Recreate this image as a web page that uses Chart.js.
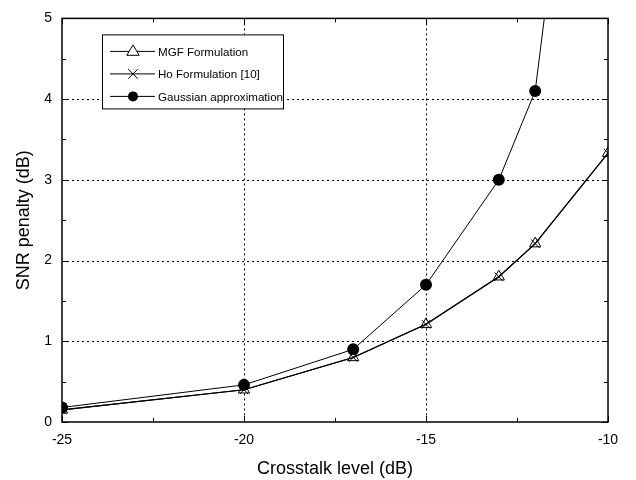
<!DOCTYPE html>
<html>
<head>
<meta charset="utf-8">
<script src="https://cdn.jsdelivr.net/npm/chart.js@4.4.0/dist/chart.umd.min.js"></script>
<style>
  body { margin: 0; background: #fff; }
  #wrap { width: 636px; height: 480px; }
</style>
</head>
<body>
<div id="wrap"><canvas id="snrChart"></canvas></div>
<script>
// values
const crosstalk = [-25, -20, -17, -15, -13, -12, -10];
const mgfPenalty = [0.15, 0.40, 0.80, 1.21, 1.80, 2.21, 3.33];
const hoPenalty = [0.15, 0.40, 0.80, 1.21, 1.80, 2.21, 3.33];
const gaussCrosstalk = [-25, -20, -17, -15, -13, -12, -11];
const gaussPenalty = [0.18, 0.46, 0.90, 1.70, 3.00, 4.10, 7.7];
const xTicks = [-25, -20, -15, -10];
const yTicks = [0, 1, 2, 3, 4, 5];
const legendLabels = ['MGF Formulation', 'Ho Formulation [10]', 'Gaussian approximation'];

const FONT = '"Liberation Sans", Arial, sans-serif';
const pts = (xs, ys) => xs.map((x, i) => ({ x: x, y: ys[i] }));

function marker(ctx, kind, x, y, r) {
  ctx.save();
  ctx.lineWidth = 1;
  ctx.strokeStyle = '#000';
  ctx.beginPath();
  if (kind === 'triangle') {
    ctx.moveTo(x, y - r);
    ctx.lineTo(x + r * 0.95, y + r * 0.6);
    ctx.lineTo(x - r * 0.95, y + r * 0.6);
    ctx.closePath();
    ctx.fillStyle = '#fff';
    ctx.fill();
    ctx.stroke();
  } else if (kind === 'cross') {
    ctx.moveTo(x - r * 0.75, y - r * 0.75);
    ctx.lineTo(x + r * 0.75, y + r * 0.75);
    ctx.moveTo(x + r * 0.75, y - r * 0.75);
    ctx.lineTo(x - r * 0.75, y + r * 0.75);
    ctx.stroke();
  } else {
    ctx.arc(x, y, r, 0, Math.PI * 2);
    ctx.fillStyle = '#000';
    ctx.fill();
  }
  ctx.restore();
}

// dotted grid, inward ticks, frame and the boxed legend
const framePlugin = {
  id: 'framePlugin',
  beforeDatasetsDraw(chart) {
    const { ctx, chartArea: a, scales: { x, y } } = chart;
    ctx.save();
    ctx.strokeStyle = '#000';
    ctx.lineWidth = 1;
    ctx.setLineDash([2, 3]);
    xTicks.slice(1, -1).forEach(v => {
      const px = Math.round(x.getPixelForValue(v)) + 0.5;
      ctx.beginPath(); ctx.moveTo(px, a.top); ctx.lineTo(px, a.bottom); ctx.stroke();
    });
    yTicks.slice(1, -1).forEach(v => {
      const py = Math.round(y.getPixelForValue(v)) + 0.5;
      ctx.beginPath(); ctx.moveTo(a.left, py); ctx.lineTo(a.right, py); ctx.stroke();
    });
    ctx.restore();
  },
  afterDatasetsDraw(chart) {
    const { ctx, chartArea: a, scales: { x, y } } = chart;
    ctx.save();
    ctx.strokeStyle = '#000';
    ctx.lineWidth = 1.5;
    ctx.strokeRect(a.left, a.top, a.right - a.left, a.bottom - a.top);
    ctx.lineWidth = 1;
    for (let v = -25; v <= -10; v += 2.5) {
      const len = (v % 5 === 0) ? 6 : 4;
      const px = Math.round(x.getPixelForValue(v)) + 0.5;
      ctx.beginPath();
      ctx.moveTo(px, a.bottom); ctx.lineTo(px, a.bottom - len);
      ctx.moveTo(px, a.top); ctx.lineTo(px, a.top + len);
      ctx.stroke();
    }
    for (let v = 0; v <= 5; v += 0.5) {
      const len = (v % 1 === 0) ? 6 : 4;
      const py = Math.round(y.getPixelForValue(v)) + 0.5;
      ctx.beginPath();
      ctx.moveTo(a.left, py); ctx.lineTo(a.left + len, py);
      ctx.moveTo(a.right, py); ctx.lineTo(a.right - len, py);
      ctx.stroke();
    }

    // legend box
    const bx = a.left + 40, by = a.top + 16, bw = 181, bh = 74;
    ctx.fillStyle = '#fff';
    ctx.fillRect(bx, by, bw, bh);
    ctx.strokeRect(bx + 0.5, by + 0.5, bw, bh);
    const kinds = ['triangle', 'cross', 'circle'];
    ctx.font = '11.6px ' + FONT;
    ctx.textBaseline = 'middle';
    legendLabels.forEach((label, i) => {
      const ly = by + 17 + i * 22.5;
      ctx.beginPath();
      ctx.moveTo(bx + 8, ly); ctx.lineTo(bx + 53, ly);
      ctx.stroke();
      marker(ctx, kinds[i], bx + 31, ly, i === 2 ? 5 : 6.5);
      ctx.fillStyle = '#000';
      ctx.fillText(label, bx + 56, ly + 1);
    });
    ctx.restore();
  }
};

const ctx = document.getElementById('snrChart').getContext('2d');
new Chart(ctx, {
  type: 'line',
  data: {
    datasets: [{
      label: legendLabels[0],
      data: pts(crosstalk, mgfPenalty),
      order: 2,
      borderColor: '#000',
      borderWidth: 1.1,
      pointStyle: 'triangle',
      pointRadius: 6.5,
      pointBackgroundColor: 'rgba(0,0,0,0)',
      pointBorderColor: '#000',
      pointBorderWidth: 1,
      tension: 0
    }, {
      label: legendLabels[1],
      data: pts(crosstalk, hoPenalty),
      order: 1,
      borderColor: '#000',
      borderWidth: 1.1,
      pointStyle: 'crossRot',
      pointRadius: 6,
      pointBorderColor: '#000',
      pointBorderWidth: 1,
      tension: 0
    }, {
      label: legendLabels[2],
      data: pts(gaussCrosstalk, gaussPenalty),
      order: 0,
      borderColor: '#000',
      borderWidth: 1,
      pointStyle: 'circle',
      pointRadius: 6,
      pointBackgroundColor: '#000',
      pointBorderColor: '#000',
      pointBorderWidth: 0,
      tension: 0
    }]
  },
  options: {
    responsive: true,
    maintainAspectRatio: false,
    animation: false,
    layout: { padding: { top: 17, right: 28, left: 0, bottom: 0 } },
    plugins: { legend: { display: false }, tooltip: { enabled: false } },
    scales: {
      x: {
        type: 'linear',
        min: -25,
        max: -10,
        afterBuildTicks: s => { s.ticks = xTicks.map(v => ({ value: v })); },
        afterFit: s => { s.height = 58; },
        grid: { display: false, drawTicks: false },
        border: { display: false },
        ticks: {
          color: '#000',
          padding: 10,
          font: { family: FONT, size: 14 }
        },
        title: {
          display: true,
          text: 'Crosstalk level (dB)',
          color: '#000',
          padding: { top: 0, bottom: 0 },
          font: { family: FONT, size: 18 }
        }
      },
      y: {
        min: 0,
        max: 5,
        afterBuildTicks: s => { s.ticks = yTicks.map(v => ({ value: v })); },
        afterFit: s => { s.width = 62; },
        grid: { display: false, drawTicks: false },
        border: { display: false },
        ticks: {
          color: '#000',
          padding: 10,
          font: { family: FONT, size: 14 }
        },
        title: {
          display: true,
          text: 'SNR penalty (dB)',
          color: '#000',
          padding: { top: 13, bottom: 0 },
          font: { family: FONT, size: 18 }
        }
      }
    }
  },
  plugins: [framePlugin]
});
</script>
</body>
</html>
